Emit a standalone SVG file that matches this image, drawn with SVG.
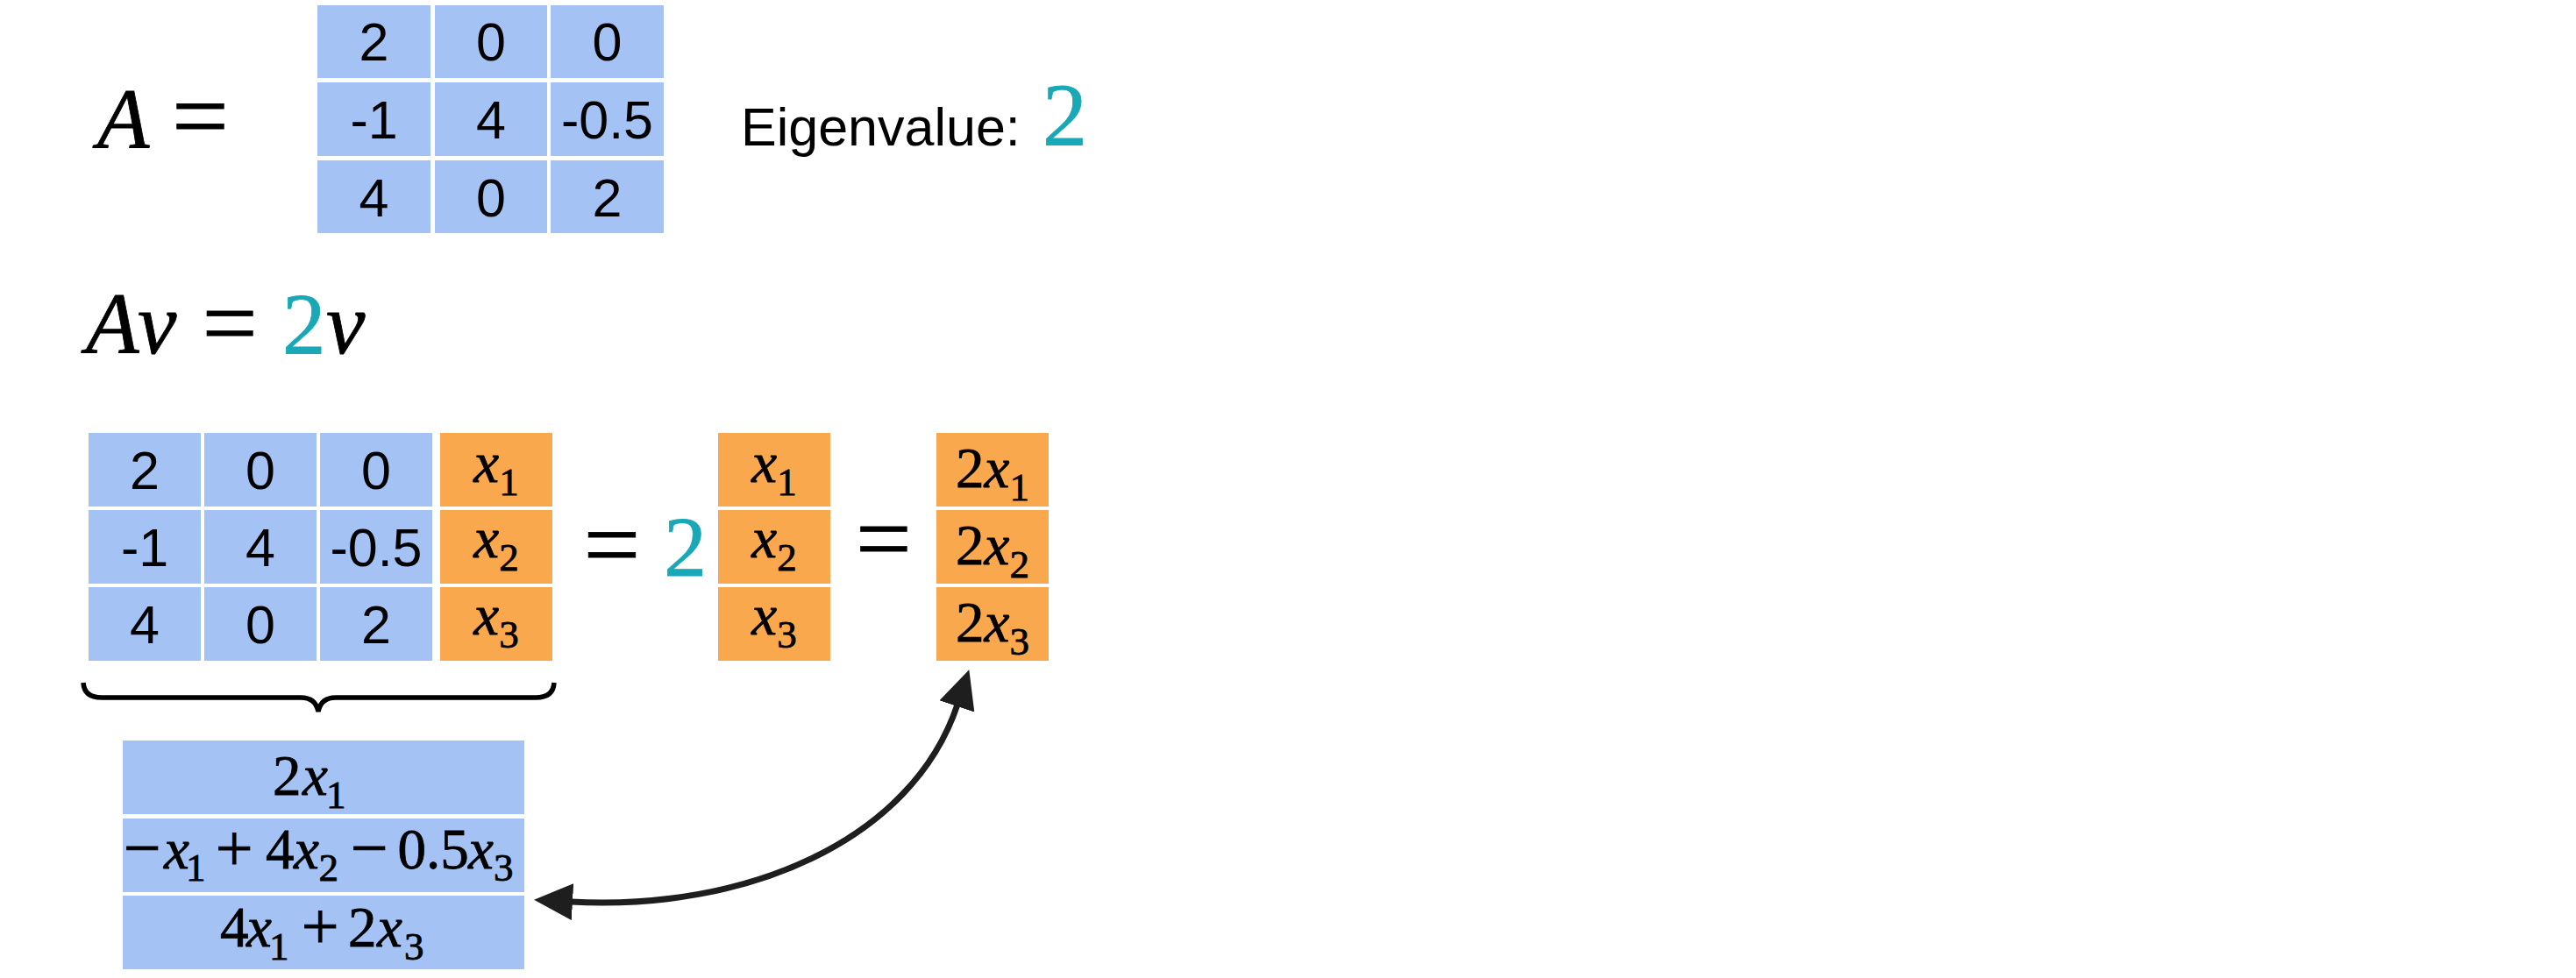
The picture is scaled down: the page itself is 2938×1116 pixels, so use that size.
<svg xmlns="http://www.w3.org/2000/svg" width="2938" height="1116" viewBox="0 0 2938 1116">
<style>
.b{fill:#A4C2F4}
.o{fill:#FAA84E}
.n{font-family:"Liberation Sans",Arial,sans-serif;font-size:61px;fill:#000;text-anchor:middle}
.m{font-family:"Liberation Serif","Times New Roman",serif;fill:#000;stroke:#000;stroke-width:0.8px}
.i{font-style:italic}
.t{fill:#1AA8B7;stroke:#1AA8B7}
.mc{font-family:"Liberation Serif","Times New Roman",serif;font-size:65px;fill:#000;stroke:#000;stroke-width:0.8px;text-anchor:middle}
.s{font-size:45px}
.op{font-size:76px}
</style>
<defs>
<marker id="ah" viewBox="0 0 44 42" refX="2" refY="21" markerWidth="44" markerHeight="42" markerUnits="userSpaceOnUse" orient="auto-start-reverse">
<path d="M0,0 L44,21 L0,42 z" fill="#1E1E1E"/>
</marker>
</defs>
<rect width="2938" height="1116" fill="#fff"/>

<g id="label-A">
<text class="m i" x="111" y="168" font-size="97">A</text>
<text class="m" x="196" y="171" font-size="115">=</text>
</g>

<g id="matrix-A">
<rect class="b" x="362" y="6" width="129" height="83"/>
<rect class="b" x="496" y="6" width="128" height="83"/>
<rect class="b" x="628" y="6" width="129" height="83"/>
<rect class="b" x="362" y="94" width="129" height="84"/>
<rect class="b" x="496" y="94" width="128" height="84"/>
<rect class="b" x="628" y="94" width="129" height="84"/>
<rect class="b" x="362" y="183" width="129" height="83"/>
<rect class="b" x="496" y="183" width="128" height="83"/>
<rect class="b" x="628" y="183" width="129" height="83"/>
<text class="n" x="426.5" y="69">2</text>
<text class="n" x="560" y="69">0</text>
<text class="n" x="692.5" y="69">0</text>
<text class="n" x="426.5" y="158">-1</text>
<text class="n" x="560" y="158">4</text>
<text class="n" x="692.5" y="158">-0.5</text>
<text class="n" x="426.5" y="247">4</text>
<text class="n" x="560" y="247">0</text>
<text class="n" x="692.5" y="247">2</text>
</g>

<g id="eigenvalue">
<text x="845" y="166" font-family="Liberation Sans, Arial, sans-serif" font-size="61" fill="#000">Eigenvalue:</text>
<text class="m t" x="1189" y="166" font-size="102">2</text>
</g>

<g id="equation">
<text class="m i" x="98" y="403" font-size="99">A</text>
<text class="m i" x="157" y="403" font-size="100">v</text>
<text class="m" x="230.5" y="405.5" font-size="112">=</text>
<text class="m t" x="322" y="403" font-size="99">2</text>
<text class="m i" x="372" y="403" font-size="100">v</text>
</g>

<g id="matrix-product">
<rect class="b" x="101" y="494" width="128" height="84"/>
<rect class="b" x="233" y="494" width="128" height="84"/>
<rect class="b" x="365" y="494" width="128" height="84"/>
<rect class="b" x="101" y="582" width="128" height="84"/>
<rect class="b" x="233" y="582" width="128" height="84"/>
<rect class="b" x="365" y="582" width="128" height="84"/>
<rect class="b" x="101" y="670" width="128" height="84"/>
<rect class="b" x="233" y="670" width="128" height="84"/>
<rect class="b" x="365" y="670" width="128" height="84"/>
<text class="n" x="165" y="558">2</text>
<text class="n" x="297" y="558">0</text>
<text class="n" x="429" y="558">0</text>
<text class="n" x="165" y="646">-1</text>
<text class="n" x="297" y="646">4</text>
<text class="n" x="429" y="646">-0.5</text>
<text class="n" x="165" y="734">4</text>
<text class="n" x="297" y="734">0</text>
<text class="n" x="429" y="734">2</text>
</g>

<g id="vector-v">
<rect class="o" x="502" y="494" width="128" height="84"/>
<rect class="o" x="502" y="582" width="128" height="84"/>
<rect class="o" x="502" y="670" width="128" height="84"/>
<text class="mc" x="566" y="550"><tspan class="i">x</tspan><tspan class="s" dy="15">1</tspan></text>
<text class="mc" x="566" y="636"><tspan class="i">x</tspan><tspan class="s" dy="15">2</tspan></text>
<text class="mc" x="566" y="724"><tspan class="i">x</tspan><tspan class="s" dy="15">3</tspan></text>
</g>

<g id="brace">
<path d="M95,779 Q96,796 116,796 L343,796 Q360,796 363,812 Q366,796 383,796 L611,796 Q631,796 632,779" fill="none" stroke="#000" stroke-width="5.5"/>
</g>

<g id="equals-1">
<text class="m" x="665.5" y="660" font-size="115">=</text>
<text class="m t" x="757" y="657" font-size="98">2</text>
</g>

<g id="vector-v2">
<rect class="o" x="819" y="494" width="128" height="84"/>
<rect class="o" x="819" y="582" width="128" height="84"/>
<rect class="o" x="819" y="670" width="128" height="84"/>
<text class="mc" x="883" y="550"><tspan class="i">x</tspan><tspan class="s" dy="15">1</tspan></text>
<text class="mc" x="883" y="636"><tspan class="i">x</tspan><tspan class="s" dy="15">2</tspan></text>
<text class="mc" x="883" y="724"><tspan class="i">x</tspan><tspan class="s" dy="15">3</tspan></text>
</g>

<g id="equals-2">
<text class="m" x="976" y="651.5" font-size="113">=</text>
</g>

<g id="vector-2v">
<rect class="o" x="1068" y="494" width="128" height="84"/>
<rect class="o" x="1068" y="582" width="128" height="84"/>
<rect class="o" x="1068" y="670" width="128" height="84"/>
<text class="mc" x="1132" y="556">2<tspan class="i">x</tspan><tspan class="s" dy="15">1</tspan></text>
<text class="mc" x="1132" y="644">2<tspan class="i">x</tspan><tspan class="s" dy="15">2</tspan></text>
<text class="mc" x="1132" y="732">2<tspan class="i">x</tspan><tspan class="s" dy="15">3</tspan></text>
</g>

<g id="expanded">
<rect class="b" x="140" y="845" width="458" height="84"/>
<rect class="b" x="140" y="934" width="458" height="84"/>
<rect class="b" x="140" y="1022" width="458" height="84"/>
<text class="m" font-size="65">
<tspan x="311" y="907">2</tspan><tspan class="i" x="345" y="907">x</tspan><tspan class="s" x="372" y="922">1</tspan>
</text>
<text class="m" font-size="65">
<tspan class="op" x="140.7" y="993">−</tspan><tspan class="i" x="187" y="991">x</tspan><tspan class="s" x="212" y="1005">1</tspan><tspan class="op" x="245.7" y="993">+</tspan><tspan x="303" y="991">4</tspan><tspan class="i" x="335" y="991">x</tspan><tspan class="s" x="363.5" y="1005">2</tspan><tspan class="op" x="399.7" y="993">−</tspan><tspan x="453.5" y="991">0.5</tspan><tspan class="i" x="534" y="991">x</tspan><tspan class="s" x="563" y="1005">3</tspan>
</text>
<text class="m" font-size="65">
<tspan x="251" y="1080">4</tspan><tspan class="i" x="281" y="1080">x</tspan><tspan class="s" x="307" y="1095">1</tspan><tspan class="op" x="343.7" y="1082">+</tspan><tspan x="397" y="1080">2</tspan><tspan class="i" x="430" y="1080">x</tspan><tspan class="s" x="461" y="1095">3</tspan>
</text>
</g>

<g id="connectors">
<path d="M1092,804 C1040,960 850,1040 651,1029" fill="none" stroke="#1E1E1E" stroke-width="7" marker-start="url(#ah)" marker-end="url(#ah)"/>
</g>
</svg>
